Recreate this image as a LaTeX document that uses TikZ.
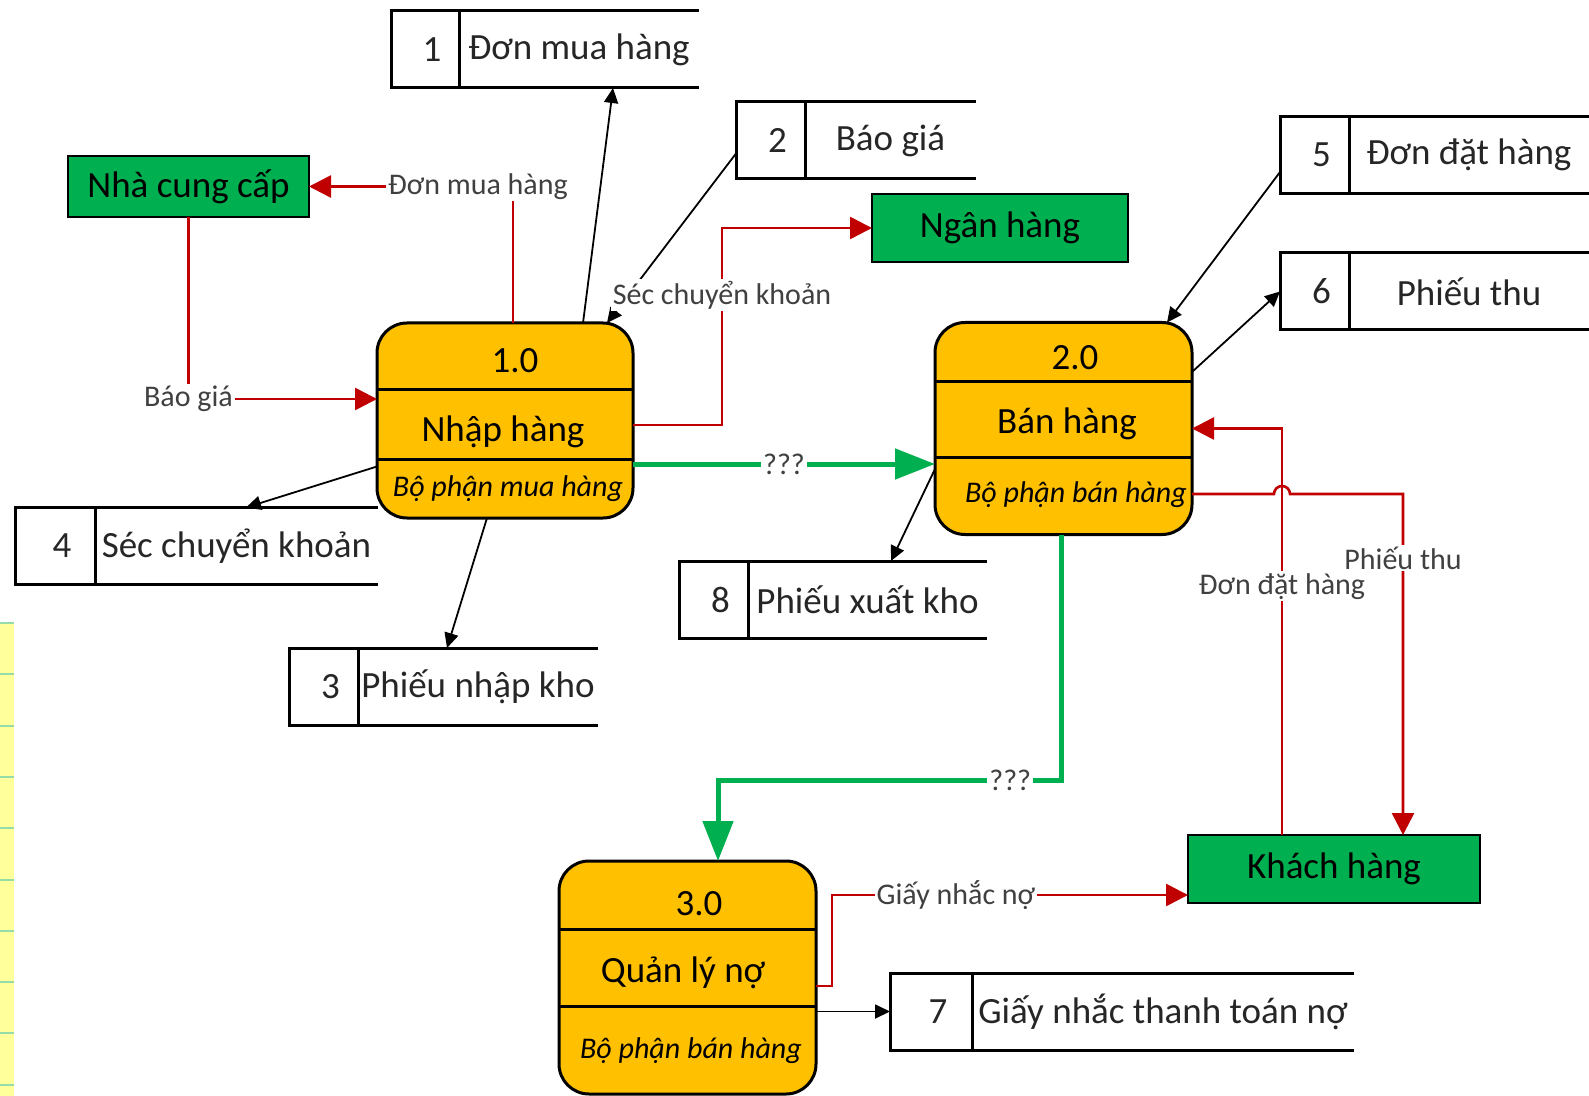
\documentclass[tikz,border=0pt]{standalone}
\usepackage{fontspec}
\setmainfont{Carlito}
\usepackage{tikz}
\usepackage{xcolor}
\usetikzlibrary{arrows.meta, calc, positioning}
\definecolor{procyellow}{HTML}{FFC000}
\definecolor{extgreen}{HTML}{00B050}
\definecolor{flowred}{HTML}{C00000}
\definecolor{flowgreen}{HTML}{00B050}
\definecolor{labelgray}{HTML}{404040}
\definecolor{storegray}{HTML}{262626}
\definecolor{stripyellow}{HTML}{FFFF9C}
\definecolor{stripgreen}{HTML}{96DCA8}
\tikzset{
  % external entity style
  extent/.style={
    draw
    , fill=extgreen
    , line width=1.4pt
    , inner sep=0pt
    , outer sep=0pt
    , font=\fontsize{18.5pt}{22pt}\selectfont
  },
  % process style
  proc/.style={
    draw
    , fill=procyellow
    , line width=1.5pt
    , rounded corners=15pt
    , inner sep=0pt
    , outer sep=0pt
  },
  procline/.style={line width=1.5pt},
  proctxt/.style={font=\fontsize{18.5pt}{22pt}\selectfont},
  procdept/.style={font=\fontsize{15pt}{18pt}\selectfont\itshape},
  % data store style
  storenum/.style={
    draw
    , line width=1.5pt
    , inner sep=0pt
    , outer sep=0pt
    , minimum height=38.5pt
    , text=storegray
    , font=\fontsize{18.5pt}{22pt}\selectfont
    , execute at begin node=\hspace*{7pt}
  },
  storetxt/.style={
    inner sep=0pt
    , outer sep=0pt
    , minimum height=38.5pt
    , text=storegray
    , font=\fontsize{18.5pt}{22pt}\selectfont
  },
  storeline/.style={line width=1.5pt},
  % flow styles
  barr/.style={line width=0.9pt, -{Triangle[length=7.5pt,width=7pt]}},
  rarr/.style={draw=flowred, line width=1.3pt, -{Triangle[length=11pt,width=11pt]}},
  garr/.style={draw=flowgreen, line width=2.5pt, -{Triangle[length=20pt,width=15pt]}},
  flowlbl/.style={
    fill=white
    , inner sep=1pt
    , text=labelgray
    , font=\fontsize{15pt}{17pt}\selectfont
  },
}
\begin{document}
\begin{tikzpicture}[x=0.5pt, y=-0.5pt]
  \useasboundingbox (0,0) rectangle (1589,1096);

  % strip at the left edge
  \fill[stripyellow] (0,623) rectangle (14,1096);
  \foreach \i in {0,...,9}
    \draw[stripgreen, line width=1pt] (0,623+51.3*\i) -- (14,623+51.3*\i);

  % external entities
  \node[extent, minimum width=120.5pt, minimum height=30.5pt] (ncc) at (188.5,186.5) {Nhà cung cấp};
  \node[extent, minimum width=128pt, minimum height=34pt] (ngan) at (1000,228) {Ngân hàng};
  \node[extent, minimum width=146pt, minimum height=34pt] (kh) at (1334,869) {Khách hàng};

  % processes
  \node[proc, minimum width=128pt, minimum height=97.5pt] (p1) at (505,420.5) {};
  \draw[procline] ([yshift=-33.5pt]p1.north west) -- ([yshift=-33.5pt]p1.north east);
  \draw[procline] ([yshift=-68pt]p1.north west) -- ([yshift=-68pt]p1.north east);
  \node[proctxt] (p1id) at (515,361) {1.0};
  \node[proctxt] (p1name) at (503,432) {Nhập hàng};
  \node[procdept] (p1dept) at (508,489) {Bộ phận mua hàng};

  \node[proc, minimum width=128.5pt, minimum height=106pt] (p2) at (1063.5,428.5) {};
  \draw[procline] ([yshift=-29.75pt]p2.north west) -- ([yshift=-29.75pt]p2.north east);
  \draw[procline] ([yshift=-67.25pt]p2.north west) -- ([yshift=-67.25pt]p2.north east);
  \node[proctxt] (p2id) at (1075,358) {2.0};
  \node[proctxt] (p2name) at (1067,424) {Bán hàng};
  \node[procdept] (p2dept) at (1076,495) {Bộ phận bán hàng};

  \node[proc, minimum width=128.5pt, minimum height=116.5pt] (p3) at (687.5,977.5) {};
  \draw[procline] ([yshift=-34pt]p3.north west) -- ([yshift=-34pt]p3.north east);
  \draw[procline] ([yshift=-72.5pt]p3.north west) -- ([yshift=-72.5pt]p3.north east);
  \node[proctxt] (p3id) at (699,904) {3.0};
  \node[proctxt] (p3name) at (683,973) {Quản lý nợ};
  \node[procdept] (p3dept) at (691,1051) {Bộ phận bán hàng};

  % data stores
  \node[storenum, minimum width=34pt] (s1n) at (425,49.5) {1};
  \node[storetxt, right=0pt of s1n, minimum width=120pt] (s1) {Đơn mua hàng};
  \draw[storeline] (s1.north west) -- (s1.north east) (s1.south west) -- (s1.south east);

  \node[storenum, minimum width=34.5pt] (s2n) at (770.5,140.5) {2};
  \node[storetxt, right=0pt of s2n, minimum width=85.5pt] (s2) {Báo giá};
  \draw[storeline] (s2.north west) -- (s2.north east) (s2.south west) -- (s2.south east);

  \node[storenum, minimum width=34.5pt] (s5n) at (1314.5,155) {5};
  \node[storetxt, right=0pt of s5n, minimum width=120pt] (s5) {Đơn đặt hàng};
  \draw[storeline] (s5.north west) -- (s5.north east) (s5.south west) -- (s5.south east);

  \node[storenum, minimum width=34.5pt] (s6n) at (1314.5,291.5) {6};
  \node[storetxt, right=0pt of s6n, minimum width=120pt] (s6) {Phiếu thu};
  \draw[storeline] (s6.north west) -- (s6.north east) (s6.south west) -- (s6.south east);

  \node[storenum, minimum width=40pt] (s4n) at (55,546) {4};
  \node[storetxt, right=0pt of s4n, minimum width=141.5pt] (s4) {Séc chuyển khoản};
  \draw[storeline] (s4.north west) -- (s4.north east) (s4.south west) -- (s4.south east);

  \node[storenum, minimum width=34.5pt] (s3n) at (323.5,686.5) {3};
  \node[storetxt, right=0pt of s3n, minimum width=120pt] (s3) {Phiếu nhập kho};
  \draw[storeline] (s3.north west) -- (s3.north east) (s3.south west) -- (s3.south east);

  \node[storenum, minimum width=34.5pt] (s8n) at (713.5,599.5) {8};
  \node[storetxt, right=0pt of s8n, minimum width=119.5pt] (s8) {Phiếu xuất kho};
  \draw[storeline] (s8.north west) -- (s8.north east) (s8.south west) -- (s8.south east);

  \node[storenum, minimum width=41pt] (s7n) at (931,1011.5) {7};
  \node[storetxt, right=0pt of s7n, minimum width=191pt] (s7) {Giấy nhắc thanh toán nợ};
  \draw[storeline] (s7.north west) -- (s7.north east) (s7.south west) -- (s7.south east);

  % flows of 1.0
  \draw[rarr] ([xshift=4pt]p1.north) |- node[pos=0.5, flowlbl, xshift=-17.5pt] {Đơn mua hàng} (ncc.east);
  \draw[rarr] (ncc.south) |- node[pos=0.5, flowlbl] {Báo giá} ([yshift=10.75pt]p1.west);
  \draw[barr] ([xshift=39pt]p1.north) -- ([xshift=17pt]s1.south);
  \draw[barr] ([yshift=-6.5pt]s2n.west) -- ([xshift=51pt]p1.north);
  \draw[rarr] ([yshift=-2.25pt]p1.east) -- ++(89,0) |- node[pos=0.33, flowlbl] {Séc chuyển khoản} (ngan.west);
  \draw[barr] ([yshift=-23pt]p1.west) -- ([xshift=4.75pt]s4.north);
  \draw[barr] ([xshift=-9pt]p1.south) -- ([xshift=-15.5pt]s3.north);
  \draw[garr] ([yshift=-21.75pt]p1.east) -- node[pos=0.5, flowlbl] {???} ([yshift=-17.75pt]p2.west);

  % flows of 2.0
  \draw[barr] ([yshift=-8.5pt]s5n.west) -- ([xshift=51.75pt]p2.north);
  \draw[barr] ([yshift=28.25pt]p2.east) -- (s6n.west);
  \draw[barr] ([yshift=-20.25pt]p2.west) -- ([xshift=11.75pt]s8.north);
  \coordinate (gbend) at (718,780);
  \draw[garr] ([xshift=-1.25pt]p2.south) |- node[pos=0.574, flowlbl] {???} (gbend) -- ([xshift=15.25pt]p3.north);
  \draw[rarr] ([xshift=-26pt]kh.north) |- node[pos=0.306, flowlbl] {Đơn đặt hàng} (p2.east);
  \draw[rarr] ([yshift=-32.75pt]p2.east) -- ++(82,0) arc[start angle=180, end angle=0, radius=4pt]
    -| node[pos=0.594, flowlbl] {Phiếu thu} ([xshift=34.5pt]kh.north);

  % flows of 3.0
  \draw[rarr] ([yshift=-4.25pt]p3.east) -- ++(16,0) |- node[pos=0.674, flowlbl] {Giấy nhắc nợ} ([yshift=-13pt]kh.west);
  \draw[barr] ([yshift=-17pt]p3.east) -- (s7n.west);
\end{tikzpicture}
\end{document}
